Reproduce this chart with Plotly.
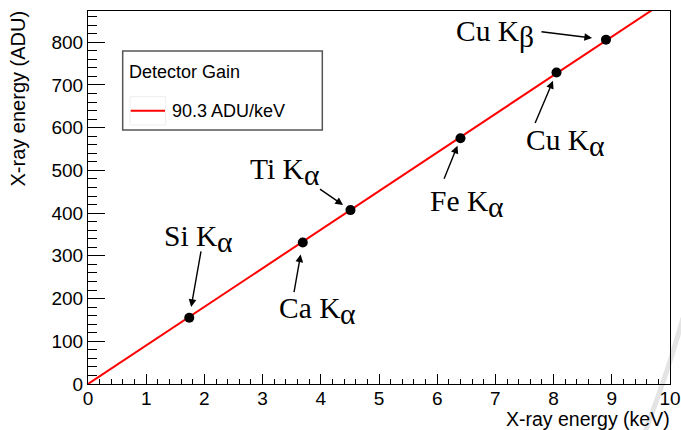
import plotly.graph_objects as go

# Calibration lines: energy (keV) and fitted peak position (ADU)
line_names = ["Si", "Ca", "Ti", "Fe", "Cu", "Cu"]
line_greek = ["α", "α", "α", "α", "α", "β"]
energy_kev = [1.74, 3.69, 4.51, 6.40, 8.05, 8.90]
peak_adu = [155, 331, 407, 575, 729, 806]

# Linear gain through the origin
gain_adu_per_kev = 90.3
fit_x = [0.0, 10.0]

# Label placement in pixels relative to each point:
# x of the split between "K" and the Greek letter, y of the cap-height centre
label_dx = [28, 37, -46, 28, 32, -87]
label_dy = [-82, 65, -41, 63, 67, -9]
greek_drop = 6
# Arrow tails relative to each point, and gap left before the marker
arrow_dx = [12, -9, -32, -17, -22, -66]
arrow_dy = [-68, 51, -22, 42, 52, -8]
arrow_standoff = [11, 12, 9, 8, 9, 14]

x_ticks = list(range(0, 11))
y_ticks = list(range(0, 900, 100))

SANS = "Liberation Sans, Arial, Helvetica, sans-serif"
SERIF = "Liberation Serif, Times New Roman, serif"
LABEL_SIZE = 29.5

fig = go.Figure()

fig.add_trace(go.Scatter(
    x=fit_x, y=[gain_adu_per_kev * v for v in fit_x],
    mode="lines", line=dict(color="#ff0000", width=2),
    showlegend=False, hoverinfo="skip", cliponaxis=True,
))
fig.add_trace(go.Scatter(
    x=energy_kev, y=peak_adu, mode="markers",
    marker=dict(color="black", size=10),
    showlegend=False,
))

annotations = []
for i in range(len(energy_kev)):
    annotations.append(dict(
        x=energy_kev[i], y=peak_adu[i], xref="x", yref="y",
        text="", showarrow=True, ax=arrow_dx[i], ay=arrow_dy[i],
        arrowhead=2, arrowsize=1.1, arrowwidth=1.4, arrowcolor="black",
        standoff=arrow_standoff[i],
    ))
    annotations.append(dict(
        x=energy_kev[i], y=peak_adu[i], xref="x", yref="y",
        text=f"{line_names[i]} K", showarrow=False,
        xshift=label_dx[i], yshift=-label_dy[i],
        xanchor="right", yanchor="middle", borderpad=0, borderwidth=0,
        font=dict(family=SERIF, size=LABEL_SIZE, color="black"),
    ))
    annotations.append(dict(
        x=energy_kev[i], y=peak_adu[i], xref="x", yref="y",
        text=line_greek[i], showarrow=False,
        xshift=label_dx[i], yshift=-label_dy[i] - greek_drop,
        xanchor="left", yanchor="middle", borderpad=0, borderwidth=0,
        font=dict(family=SERIF, size=LABEL_SIZE, color="black"),
    ))

# Axis titles
annotations.append(dict(
    x=1.0, y=-0.1233, xref="paper", yref="paper",
    text="X-ray energy (keV)", showarrow=False,
    xanchor="right", yanchor="bottom", borderpad=0, borderwidth=0,
    font=dict(family=SANS, size=19.5, color="black"),
))
annotations.append(dict(
    x=-0.1203, y=0.7654, xref="paper", yref="paper",
    text="X-ray energy (ADU)", showarrow=False, textangle=-90,
    xanchor="center", yanchor="middle",
    font=dict(family=SANS, size=20, color="black"),
))

# Legend box
annotations.append(dict(
    x=0.067, y=0.8373, xref="paper", yref="paper",
    text="Detector Gain", showarrow=False,
    xanchor="left", yanchor="middle",
    font=dict(family=SANS, size=18, color="black"),
))
annotations.append(dict(
    x=0.1409, y=0.7327, xref="paper", yref="paper",
    text=f"{gain_adu_per_kev:.1f} ADU/keV", showarrow=False,
    xanchor="left", yanchor="middle",
    font=dict(family=SANS, size=18, color="black"),
))

shapes = [
    dict(type="rect", xref="paper", yref="paper",
         x0=0.0596, x1=0.4026, y0=0.681, y1=0.8928,
         line=dict(color="#555555", width=1.5), fillcolor="white", layer="above"),
    dict(type="rect", xref="paper", yref="paper",
         x0=0.0722, x1=0.1335, y0=0.6944, y1=0.7702,
         line=dict(color="#eeeeee", width=1), layer="above"),
    dict(type="line", xref="paper", yref="paper",
         x0=0.0734, x1=0.1323, y0=0.7327, y1=0.7327,
         line=dict(color="#ff0000", width=2), layer="above"),
    # faint grey arc in the lower-right corner
    dict(type="path", xref="paper", yref="paper",
         path="M 1.0223 0.1769 Q 0.9966 0.0322 0.9570 -0.1287",
         line=dict(color="#e4e4e4", width=5), layer="below"),
]

fig.update_layout(
    width=681, height=430,
    margin=dict(l=88, r=11, t=11, b=46, autoexpand=False),
    paper_bgcolor="white", plot_bgcolor="white",
    showlegend=False,
    annotations=annotations,
    shapes=shapes,
    font=dict(family=SANS, size=19, color="black"),
)

fig.update_xaxes(
    range=[0, 10], tickvals=x_ticks, ticktext=[str(v) for v in x_ticks],
    automargin=False, ticklabelstandoff=-3,
    ticks="inside", ticklen=10, tickwidth=1, tickcolor="black",
    showline=True, linecolor="black", linewidth=1, mirror=True,
    showgrid=False, zeroline=False,
    tickfont=dict(family=SANS, size=19),
    minor=dict(dtick=0.2, ticks="inside", ticklen=5, tickcolor="black", showgrid=False),
)
fig.update_yaxes(
    range=[0, 873], tickvals=y_ticks, ticktext=[str(v) for v in y_ticks],
    automargin=False,
    ticks="inside", ticklen=17, tickwidth=1, tickcolor="black",
    showline=True, linecolor="black", linewidth=1, mirror=True,
    showgrid=False, zeroline=False,
    tickfont=dict(family=SANS, size=19),
    minor=dict(dtick=20, ticks="inside", ticklen=9, tickcolor="black", showgrid=False),
)

fig.write_html("out.html")
